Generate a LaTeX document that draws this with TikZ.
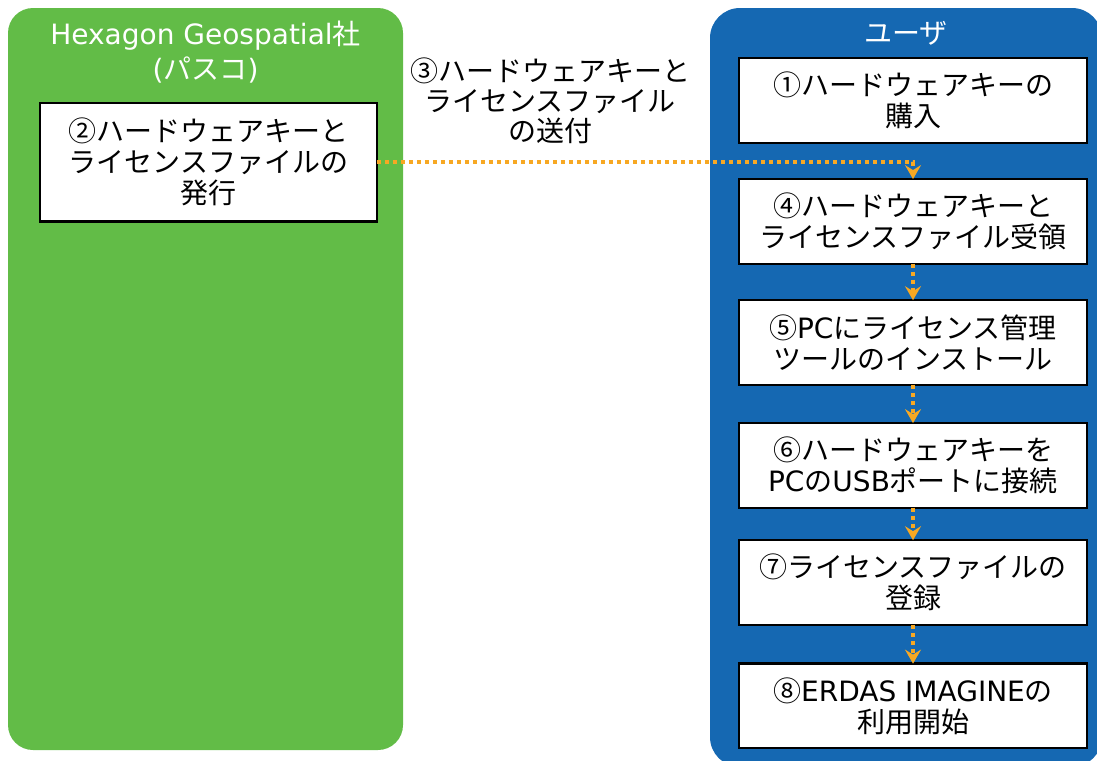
\documentclass[tikz,border=0pt]{standalone}
\usepackage{fontspec}
\setmainfont{Noto Sans CJK JP}
\newfontfamily\latinfont{DejaVu Sans}
\newcommand\eng[1]{{\latinfont #1}}
\usetikzlibrary{positioning,arrows.meta}
\definecolor{panelgreen}{RGB}{98,188,71}
\definecolor{panelblue}{RGB}{21,104,178}
\definecolor{flowline}{RGB}{247,168,35}
\begin{document}
\begin{tikzpicture}[x=0.5pt,y=-0.5pt,font=\fontsize{14}{15.5}\selectfont,
  stepbox/.style={draw=black,line width=1.2pt,fill=white,minimum width=173.8pt,minimum height=42.3pt,inner sep=0pt,outer sep=0pt,align=center},
  flow/.style={flowline,line width=1.8pt,dash pattern=on 2pt off 2pt,-{Stealth[length=7pt,width=8pt,inset=2.5pt]}},
  paneltitle/.style={text=white,align=center}]
\useasboundingbox (0,0) rectangle (1097,760);
\clip (0,0) rectangle (1097,760);
% panels
\fill[panelgreen,rounded corners=12.5pt] (8,8) rectangle (403,750);
\fill[panelblue,rounded corners=15pt] (710,8) rectangle (1102,767);
\node[paneltitle,font=\fontsize{14}{17.5}\selectfont] (geo) at (205.5,52) {\eng{Hexagon Geospatial}社\\\eng{(}パスコ\eng{)}};
\node[paneltitle] (user) at (906,33) {ユーザ};
% steps
\node[stepbox,minimum width=168.3pt,minimum height=59.3pt] (hw2) at (208.5,162.2) {②ハードウェアキーと\\ライセンスファイルの\\発行};
\node[stepbox] (hw1) at (913,100.4) {①ハードウェアキーの\\購入};
\node[stepbox] (hw4) at (913,221.4) {④ハードウェアキーと\\ライセンスファイル受領};
\node[stepbox] (hw5) at (913,342.5) {⑤\eng{PC}にライセンス管理\\ツールのインストール};
\node[stepbox] (hw6) at (913,465.4) {⑥ハードウェアキーを\\\eng{PC}の\eng{USB}ポートに接続};
\node[stepbox] (hw7) at (913,582.5) {⑦ライセンスファイルの\\登録};
\node[stepbox] (hw8) at (913,705.9) {⑧\eng{ERDAS IMAGINE}の\\利用開始};
\node[align=center,font=\fontsize{14}{15}\selectfont] (send) at (550,101) {③ハードウェアキーと\\ライセンスファイル\\の送付};
% connectors
\draw[flow] (hw2.east) -| (hw4.north);
\foreach \a/\b in {4/5,5/6,6/7,7/8} \draw[flow] (hw\a) -- (hw\b);
\end{tikzpicture}
\end{document}
